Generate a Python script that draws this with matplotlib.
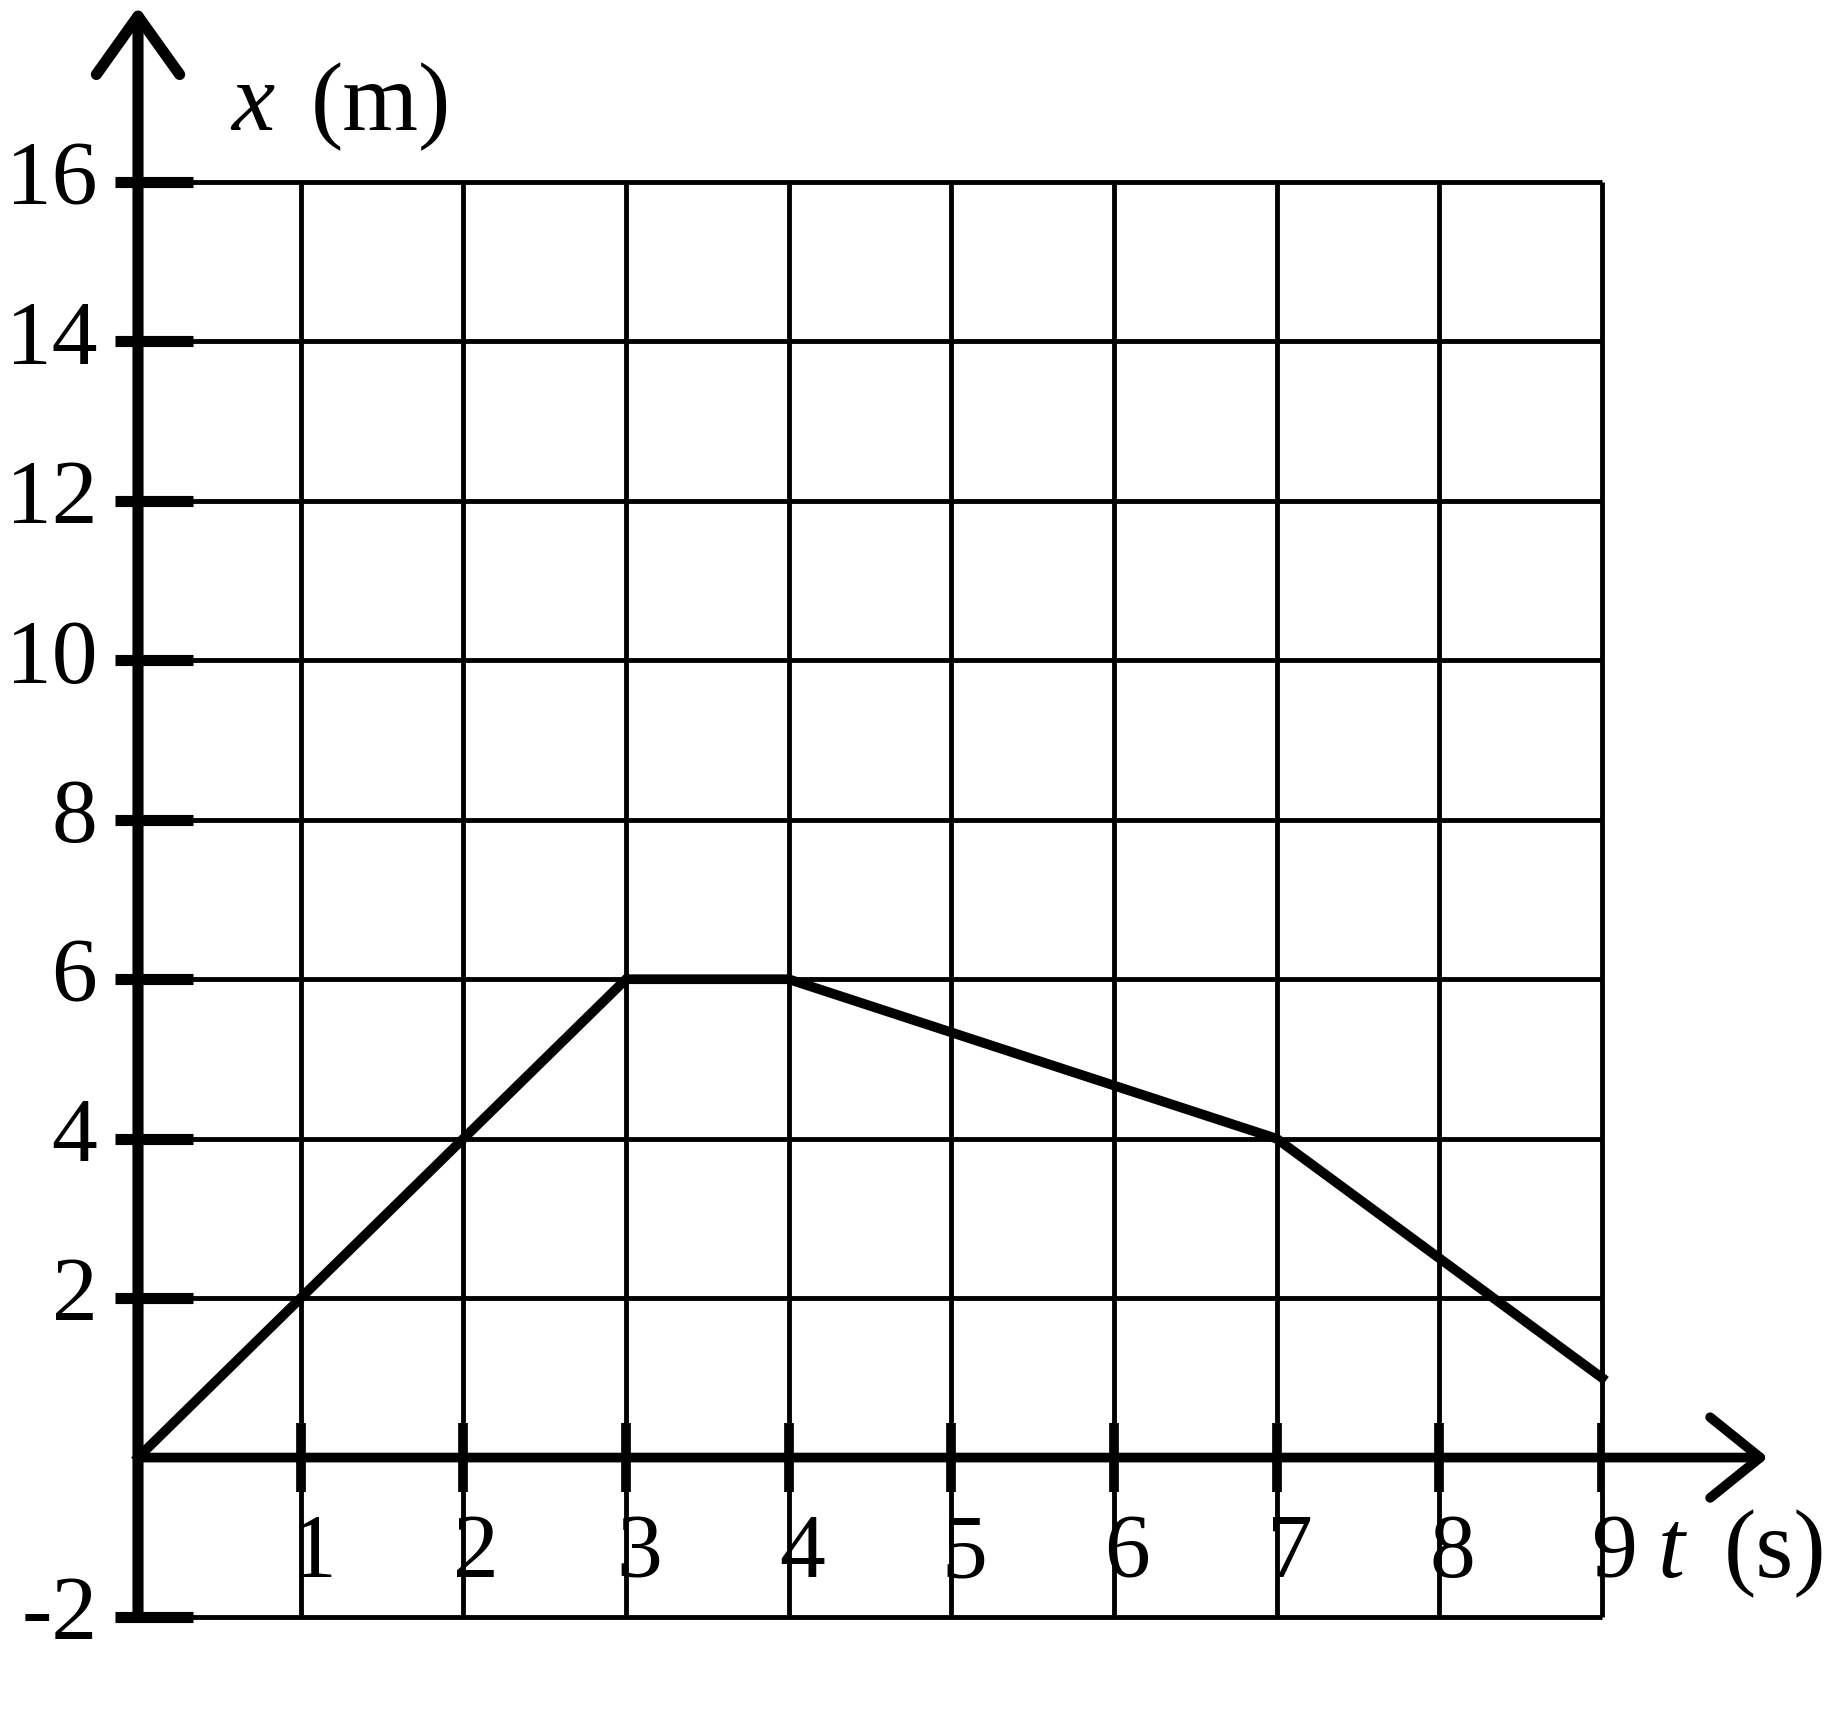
import numpy as np
import matplotlib
matplotlib.use("Agg")
import matplotlib.pyplot as plt

# Data
t_vals = [0, 3, 4, 7, 9]
x_vals = [0, 6, 6, 4, 1]
t_ticks = [1, 2, 3, 4, 5, 6, 7, 8, 9]
x_ticks = [-2, 0, 2, 4, 6, 8, 10, 12, 14, 16]
x_tick_labels = ["-2", "", "2", "4", "6", "8", "10", "12", "14", "16"]

plt.rcParams['font.family'] = ['Liberation Serif', 'DejaVu Serif']
FS = 66

fig = plt.figure(figsize=(18.25, 17.32), dpi=100)
ax = fig.add_axes([138 / 1825, 115 / 1732, 1464 / 1825, 1435 / 1732])
ax.set_xlim(0, 9)
ax.set_ylim(-2, 16)
ax.axis('off')

# grid
ax.vlines(range(0, 10), -2, 16, color='k', lw=3.5, zorder=1, clip_on=False)
ax.hlines(x_ticks, 0, 9, color='k', lw=3.5, zorder=1, clip_on=False)

# axes with open arrow heads
ax.annotate('', xy=(0, 18.2), xytext=(0, -2),
            arrowprops=dict(arrowstyle='->,head_length=0.84,head_width=0.6',
                            mutation_scale=50, lw=8, color='k',
                            shrinkA=0, shrinkB=0),
            annotation_clip=False, zorder=3)
ax.annotate('', xy=(10.02, 0), xytext=(0, 0),
            arrowprops=dict(arrowstyle='->,head_length=0.72,head_width=0.58',
                            mutation_scale=50, lw=7, color='k',
                            shrinkA=0, shrinkB=0),
            annotation_clip=False, zorder=3)

# tick marks
ax.vlines(t_ticks, -0.43, 0.43, color='k', lw=7, zorder=3)
y_marks = [v for v, lab in zip(x_ticks, x_tick_labels) if lab]
ax.hlines(y_marks, -0.14, 0.34, color='k', lw=8, zorder=3, clip_on=False)

# tick labels
for t in t_ticks:
    ax.text(t + 0.08, -1.5, str(t), ha='center', va='baseline', fontsize=FS)
for v, lab in zip(x_ticks, x_tick_labels):
    ax.text(-0.25, v - 0.28, lab, ha='right', va='baseline', fontsize=FS,
            clip_on=False)

# axis labels
ax.text(0.57, 16.65, "x", style='italic', ha='left', va='baseline',
        fontsize=FS + 4, clip_on=False)
ax.text(1.06, 16.65, "(m)", ha='left', va='baseline', fontsize=FS + 4,
        clip_on=False)
ax.text(9.34, -1.5, "t", style='italic', ha='left', va='baseline',
        fontsize=FS + 4, clip_on=False)
ax.text(9.75, -1.5, "(s)", ha='left', va='baseline', fontsize=FS + 4,
        clip_on=False)

# position curve
ax.plot(t_vals, x_vals, color='k', lw=7, solid_joinstyle='miter', zorder=4,
        clip_on=False)

fig.savefig("out.png", dpi=100, facecolor='white')
